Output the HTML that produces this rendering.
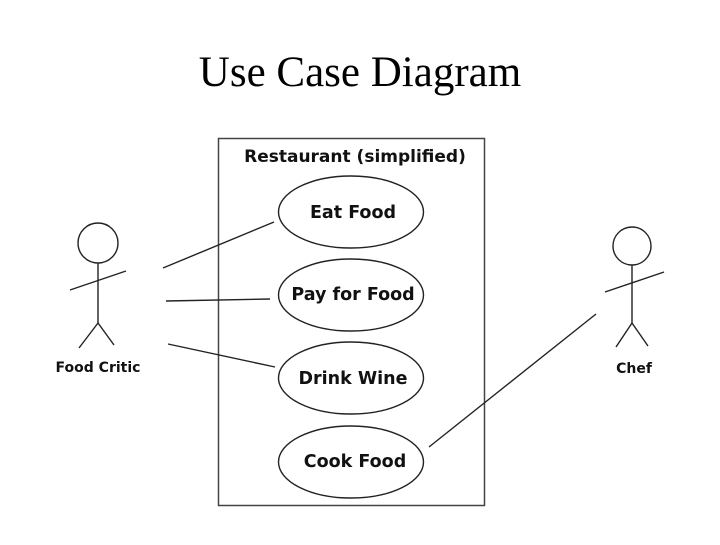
<!DOCTYPE html>
<html><head><style>body{margin:0;background:#fff;width:720px;height:540px;overflow:hidden}</style></head>
<body>
<svg width="720" height="540" xmlns="http://www.w3.org/2000/svg">
<text x="360" y="86" text-anchor="middle" font-family="Liberation Serif, serif" font-size="43">Use Case Diagram</text>
<rect x="218.5" y="138.5" width="266" height="367" fill="none" stroke="#444" stroke-width="1.5"/>
<text x="355" y="162" text-anchor="middle" font-family="DejaVu Sans, sans-serif" font-weight="bold" font-size="17" fill="#111">Restaurant (simplified)</text>
<g fill="none" stroke="#222" stroke-width="1.4">
<ellipse cx="351" cy="212" rx="72.5" ry="36"/>
<ellipse cx="351" cy="295" rx="72.5" ry="36"/>
<ellipse cx="351" cy="378" rx="72.5" ry="36"/>
<ellipse cx="351" cy="462" rx="72.5" ry="36"/>
<line x1="163" y1="268" x2="274" y2="222"/>
<line x1="166" y1="301" x2="270" y2="299"/>
<line x1="168" y1="344" x2="275" y2="367"/>
<line x1="429" y1="447" x2="596" y2="314"/>
<circle cx="98" cy="243" r="20"/>
<line x1="98" y1="263" x2="98" y2="323"/>
<line x1="70" y1="290" x2="126" y2="271"/>
<line x1="98" y1="323" x2="79" y2="348"/>
<line x1="98" y1="323" x2="114" y2="345"/>
<circle cx="632" cy="246" r="19"/>
<line x1="632" y1="265" x2="632" y2="323"/>
<line x1="605" y1="292" x2="664" y2="272"/>
<line x1="632" y1="323" x2="616" y2="347"/>
<line x1="632" y1="323" x2="648" y2="346"/>
</g>
<g font-family="DejaVu Sans, sans-serif" font-weight="bold" fill="#111" text-anchor="middle">
<text x="353" y="218" font-size="17.5">Eat Food</text>
<text x="353" y="300" font-size="17.5">Pay for Food</text>
<text x="353" y="384" font-size="17.5">Drink Wine</text>
<text x="355" y="467" font-size="17.5">Cook Food</text>
<text x="98" y="372" font-size="14">Food Critic</text>
<text x="634" y="373" font-size="14">Chef</text>
</g>
</svg>
</body></html>
